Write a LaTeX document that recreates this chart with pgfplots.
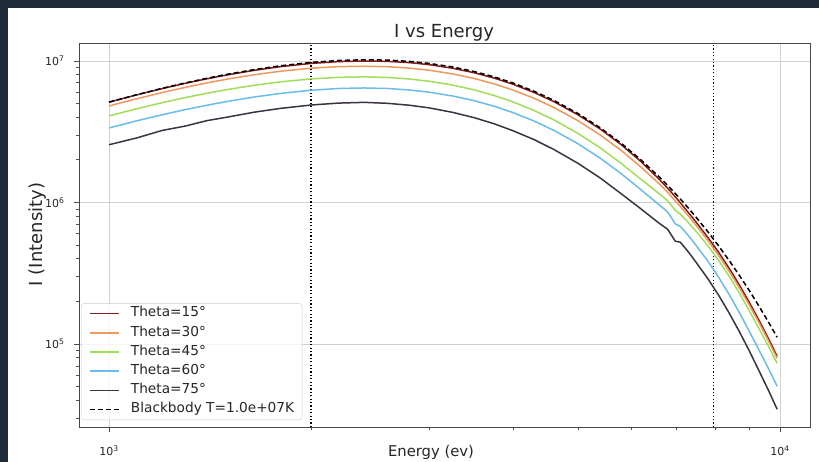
\documentclass[border=0pt]{standalone}
\usepackage{fontspec}
\setmainfont{DejaVu Sans}
\usepackage{pgfplots}
\usepackage{pgfplotstable}
\pgfplotsset{compat=1.18}

\definecolor{pageBg}{RGB}{30,42,58}
\definecolor{cFifteen}{RGB}{135,26,26}
\definecolor{cThirty}{RGB}{238,152,92}
\definecolor{cFortyFive}{RGB}{160,222,90}
\definecolor{cSixty}{RGB}{105,188,235}
\definecolor{cSeventyFive}{RGB}{60,50,66}

% Intensity spectra for several viewing angles and the T=1e7 K blackbody
\pgfplotstableread{
E     t15       t30       t45       t60       t75       bb
1000  5.118e6   4.811e6   4.094e6   3.362e6   2.559e6   5.118e6
1100  5.765e6   5.412e6   4.598e6   3.778e6   2.860e6   5.776e6
1200  6.380e6   5.983e6   5.074e6   4.170e6   3.230e6   6.406e6
1300  6.957e6   6.516e6   5.515e6   4.535e6   3.470e6   6.999e6
1400  7.488e6   7.005e6   5.918e6   4.869e6   3.790e6   7.549e6
1500  7.970e6   7.447e6   6.280e6   5.177e6   4.010e6   8.051e6
1650  8.603e6   8.011e6   6.749e6   5.573e6   4.354e6   8.708e6
1800  9.114e6   8.458e6   7.118e6   5.897e6   4.622e6   9.244e6
2000  9.611e6   8.888e6   7.472e6   6.212e6   4.884e6   9.768e6
2200  9.899e6   9.123e6   7.661e6   6.391e6   5.040e6   1.0081e7
2400  9.994e6   9.178e6   7.720e6   6.445e6   5.099e6   1.0198e7
2600  9.939e6   9.108e6   7.647e6   6.390e6   5.020e6   1.0142e7
2800  9.739e6   8.904e6   7.463e6   6.241e6   4.869e6   9.938e6
3000  9.418e6   8.602e6   7.189e6   6.016e6   4.661e6   9.611e6
3250  8.888e6   8.108e6   6.757e6   5.659e6   4.335e6   9.070e6
3500  8.257e6   7.524e6   6.251e6   5.240e6   3.977e6   8.425e6
3750  7.565e6   6.885e6   5.697e6   4.786e6   3.597e6   7.719e6
4000  6.846e6   6.231e6   5.135e6   4.317e6   3.213e6   6.986e6
4300  5.987e6   5.443e6   4.466e6   3.763e6   2.780e6   6.109e6
4600  5.164e6   4.695e6   3.836e6   3.236e6   2.371e6   5.270e6
5000  4.162e6   3.780e6   3.075e6   2.599e6   1.890e6   4.247e6
5400  3.292e6   2.990e6   2.425e6   2.049e6   1.485e6   3.359e6
5800  2.557e6   2.327e6   1.883e6   1.595e6   1.151e6   2.615e6
6200  1.951e6   1.786e6   1.465e6   1.234e6   9.031e5   2.007e6
6600  1.464e6   1.359e6   1.156e6   9.662e5   7.151e5   1.522e6
6800  1.260e6   1.181e6   1.029e6   8.575e5   6.464e5   1.319e6
6980  1.097e6   1.025e6   8.799e5   7.062e5   5.325e5   1.158e6
7100  9.966e5   9.383e5   8.270e5   6.785e5   5.248e5   1.060e6
7300  8.496e5   8.039e5   7.217e5   5.846e5   4.476e5   9.135e5
7500  7.241e5   6.872e5   6.244e5   4.964e5   3.770e5   7.854e5
7800  5.688e5   5.401e5   4.971e5   3.867e5   2.906e5   6.237e5
8100  4.438e5   4.216e5   3.895e5   2.959e5   2.209e5   4.931e5
8400  3.416e5   3.261e5   3.009e5   2.232e5   1.650e5   3.882e5
8700  2.603e5   2.482e5   2.284e5   1.660e5   1.218e5   3.045e5
9000  1.964e5   1.880e5   1.714e5   1.226e5   8.925e4   2.380e5
9300  1.474e5   1.418e5   1.289e5   9.085e4   6.489e4   1.854e5
9600  1.101e5   1.062e5   9.717e4   6.766e4   4.751e4   1.440e5
9900  8.182e4   7.926e4   7.301e4   5.027e4   3.456e4   1.115e5
}\spectra

\begin{document}
\begin{tikzpicture}[x=1pt,y=1pt]
\path[use as bounding box] (0,0) rectangle (819,462);
\fill[pageBg] (0,0) rectangle (819,462);
\fill[white] (8,0) rectangle (819,454);
\begin{axis}[
  at={(79pt,35pt)}, anchor=south west,
  width=731pt, height=384pt, scale only axis,
  xmode=log, ymode=log,
  xmin=902, xmax=11083, ymin=2.591e4, ymax=1.340e7,
  xtick={1000,10000},
  xticklabels={10\textsuperscript{3},10\textsuperscript{4}},
  ytick={1e5,1e6,1e7},
  yticklabels={10\textsuperscript{5},10\textsuperscript{6},10\textsuperscript{7}},
  minor xtick={2000,3000,4000,5000,6000,7000,8000,9000},
  minor ytick={3e4,4e4,5e4,6e4,7e4,8e4,9e4,2e5,3e5,4e5,5e5,6e5,7e5,8e5,9e5,2e6,3e6,4e6,5e6,6e6,7e6,8e6,9e6},
  tick pos=left, tick align=outside,
  major tick length=5pt, minor tick length=3pt,
  tick style={black!70, line width=0.8pt},
  grid=major, major grid style={black!18, line width=0.8pt},
  axis line style={black!72, line width=0.9pt},
  ticklabel style={font=\fontsize{11}{13}\selectfont, text=black!85},
  yticklabel style={anchor=east, xshift=-6pt},
  xticklabel style={anchor=north, yshift=-10pt},
  legend cell align=left,
  legend style={at={(rel axis cs:0.0027,0.018)}, anchor=south west,
    draw=black!20, rounded corners=3pt, fill=white, fill opacity=0.8, text opacity=1,
    font=\fontsize{13.7}{16}\selectfont, text=black!85,
    inner xsep=8pt, inner ysep=3.5pt, row sep=5.7pt, column sep=11pt,
    nodes={inner sep=0pt, text height=10pt, text depth=3.5pt}},
  legend image code/.code={\draw[#1, line width=1.7pt] (0pt,0pt) -- (29pt,0pt);},
]
\addplot[black, line width=1.2pt, dash pattern=on 1.2pt off 2.2pt, forget plot]
  coordinates {(2000,2.591e4) (2000,1.340e7)};
\addplot[black, line width=1.2pt, dash pattern=on 1.2pt off 2.2pt, forget plot]
  coordinates {(7950,2.591e4) (7950,1.340e7)};

\addplot[cFifteen, line width=1.5pt] table[x=E, y=t15] {\spectra};
\addlegendentry{Theta=15°}
\addplot[cThirty, line width=1.5pt] table[x=E, y=t30] {\spectra};
\addlegendentry{Theta=30°}
\addplot[cFortyFive, line width=1.5pt] table[x=E, y=t45] {\spectra};
\addlegendentry{Theta=45°}
\addplot[cSixty, line width=1.5pt] table[x=E, y=t60] {\spectra};
\addlegendentry{Theta=60°}
\addplot[cSeventyFive, line width=1.5pt] table[x=E, y=t75] {\spectra};
\addlegendentry{Theta=75°}
\addplot[black, line width=1.5pt, dash pattern=on 5pt off 3pt] table[x=E, y=bb] {\spectra};
\addlegendentry{Blackbody T=1.0e+07K}
\end{axis}
\node[anchor=base, font=\fontsize{18}{21}\selectfont, text=black!85] at (444,424) {I vs Energy};
\node[anchor=base, font=\fontsize{14.8}{17}\selectfont, text=black!85] at (431,5) {Energy (ev)};
\node[anchor=base, rotate=90, font=\fontsize{18}{21}\selectfont, text=black!85] at (42,227.5) {I (Intensity)};
\end{tikzpicture}
\end{document}
